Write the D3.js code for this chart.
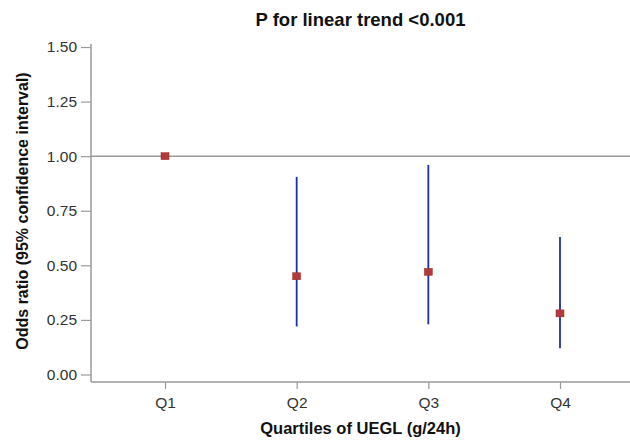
<!DOCTYPE html>
<html>
<head>
<meta charset="utf-8">
<script src="https://cdn.jsdelivr.net/npm/d3@7"></script>
<style>
  body { margin: 0; background: #fff; }
  text { font-family: "Liberation Sans", Arial, sans-serif; }
</style>
</head>
<body>
<div id="chart"></div>
<script>
// odds ratios with 95% CI
var quartiles = ["Q1", "Q2", "Q3", "Q4"];
var oddsRatio = [1.00, 0.45, 0.47, 0.28];
var ciLow = [null, 0.22, 0.23, 0.12];
var ciHigh = [null, 0.905, 0.96, 0.63];
var yTicks = [0, 0.25, 0.5, 0.75, 1.0, 1.25, 1.5];

var width = 630, height = 440;
var plotLeft = 91, plotRight = 630, plotTop = 47, plotBottom = 382;

var svg = d3.select("#chart").append("svg")
    .attr("width", width)
    .attr("height", height);

var x = d3.scalePoint()
    .domain(quartiles)
    .range([165, 560]);

var y = d3.scaleLinear()
    .domain([0, 1.5])
    .range([374.5, plotTop]);

// y axis
var yAxis = svg.append("g")
    .attr("transform", "translate(" + plotLeft + ",0)")
    .call(d3.axisLeft(y).tickValues(yTicks).tickFormat(d3.format(".2f")).tickSize(10).tickSizeOuter(0).tickPadding(4));
yAxis.select(".domain").remove();
yAxis.append("line")
    .attr("x1", 0).attr("x2", 0)
    .attr("y1", y(1.5) - 3).attr("y2", plotBottom)
    .attr("stroke", "#9a9a9a").attr("stroke-width", 1.5);

// x axis
var xAxis = svg.append("g")
    .attr("transform", "translate(0," + plotBottom + ")")
    .call(d3.axisBottom(x).tickSize(7).tickSizeOuter(0).tickPadding(8));
xAxis.select(".domain").remove();
xAxis.append("line")
    .attr("x1", plotLeft).attr("x2", plotRight)
    .attr("stroke", "#9a9a9a").attr("stroke-width", 1.5);

svg.selectAll(".tick line").attr("stroke", "#9a9a9a").attr("stroke-width", 1.2);
svg.selectAll(".tick text")
    .attr("fill", "#333")
    .style("font-size", "15.5px");

// reference line at OR = 1
svg.append("line")
    .attr("x1", plotLeft).attr("x2", plotRight)
    .attr("y1", y(1)).attr("y2", y(1))
    .attr("stroke", "#9a9a9a").attr("stroke-width", 1.5);

var rows = quartiles.map(function(q, i) {
    return { q: q, or: oddsRatio[i], lo: ciLow[i], hi: ciHigh[i] };
});

// confidence intervals
svg.selectAll(".ci")
    .data(rows.filter(function(d) { return d.lo !== null; }))
    .enter().append("line")
    .attr("class", "ci")
    .attr("x1", function(d) { return x(d.q); })
    .attr("x2", function(d) { return x(d.q); })
    .attr("y1", function(d) { return y(d.lo); })
    .attr("y2", function(d) { return y(d.hi); })
    .attr("stroke", "#1f2fa8")
    .attr("stroke-width", 1.8);

// point estimates
svg.selectAll(".pt")
    .data(rows)
    .enter().append("rect")
    .attr("class", "pt")
    .attr("x", function(d) { return x(d.q) - 4; })
    .attr("y", function(d) { return y(d.or) - 3.5; })
    .attr("width", 8)
    .attr("height", 7)
    .attr("fill", "#b23a3a")
    .attr("stroke", "#9a2e2e")
    .attr("stroke-width", 0.5);

// titles
svg.append("text")
    .attr("x", (plotLeft + plotRight) / 2)
    .attr("y", 26)
    .attr("text-anchor", "middle")
    .style("font-size", "18.5px")
    .style("font-weight", "bold")
    .attr("fill", "#111")
    .text("P for linear trend <0.001");

svg.append("text")
    .attr("x", (plotLeft + plotRight) / 2)
    .attr("y", 434)
    .attr("text-anchor", "middle")
    .style("font-size", "16.5px")
    .style("font-weight", "bold")
    .attr("fill", "#111")
    .text("Quartiles of UEGL (g/24h)");

svg.append("text")
    .attr("transform", "translate(28," + 211 + ") rotate(-90)")
    .attr("text-anchor", "middle")
    .style("font-size", "16px")
    .style("font-weight", "bold")
    .attr("fill", "#111")
    .text("Odds ratio (95% confidence interval)");
</script>
</body>
</html>
